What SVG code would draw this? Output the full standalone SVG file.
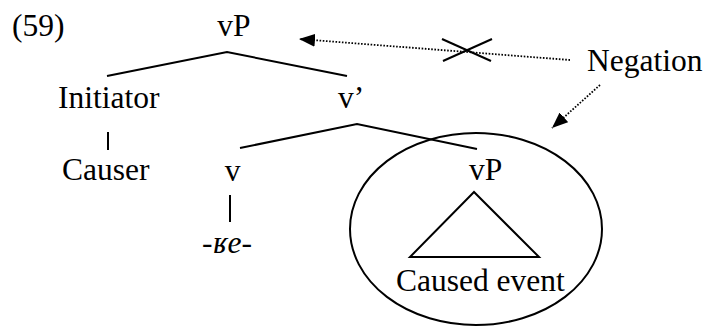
<svg xmlns="http://www.w3.org/2000/svg" width="705" height="327" viewBox="0 0 705 327">
<style>
.e{stroke:#000;stroke-width:2;fill:none}
.d{stroke:#000;stroke-width:1.8;fill:none;stroke-dasharray:1.6 1.6}
</style>
<defs>
<marker id="ah" markerWidth="16" markerHeight="13" refX="16" refY="6.5" orient="auto" markerUnits="userSpaceOnUse">
<path d="M0,0 L16,6.5 L0,13 Z" fill="#000"/>
</marker>
</defs>
<g font-family="Liberation Serif, Times New Roman, DejaVu Serif, serif" font-size="31.5" fill="#000">
<text x="12" y="36">(59)</text>
<g id="connectors">
<polyline class="e" points="107,76 227,52 347,76"/>
<line class="e" x1="108" y1="132" x2="108" y2="150"/>
<polyline class="e" points="240,148 357,124 477,149"/>
<line class="e" x1="230" y1="195" x2="230" y2="222"/>
<polygon class="e" points="474,192 410,257 539,257"/>
<line class="d" x1="570" y1="60" x2="299" y2="39" marker-end="url(#ah)"/>
<line class="d" x1="600" y1="85" x2="552" y2="128" marker-end="url(#ah)"/>
<line class="e" x1="442" y1="39" x2="491" y2="61"/>
<line class="e" x1="443" y1="61" x2="492" y2="39"/>
</g>
<g id="vP-top"><text x="234" y="36" text-anchor="middle">vP</text></g>
<g id="initiator"><text x="58" y="108">Initiator</text></g>
<g id="vbar"><text x="338" y="108">v’</text></g>
<g id="causer"><text x="62" y="180">Causer</text></g>
<g id="v"><text x="232.5" y="181" text-anchor="middle">v</text></g>
<g id="ke"><text x="202" y="253">-<tspan font-style="italic">ʁe</tspan>-</text></g>
<g id="caused-vP">
<ellipse class="e" cx="476" cy="229" rx="126" ry="96"/>
<text x="469" y="180">vP</text>
<text x="396" y="291">Caused event</text>
</g>
<g id="negation"><text x="587" y="71">Negation</text></g>
</g>
</svg>
